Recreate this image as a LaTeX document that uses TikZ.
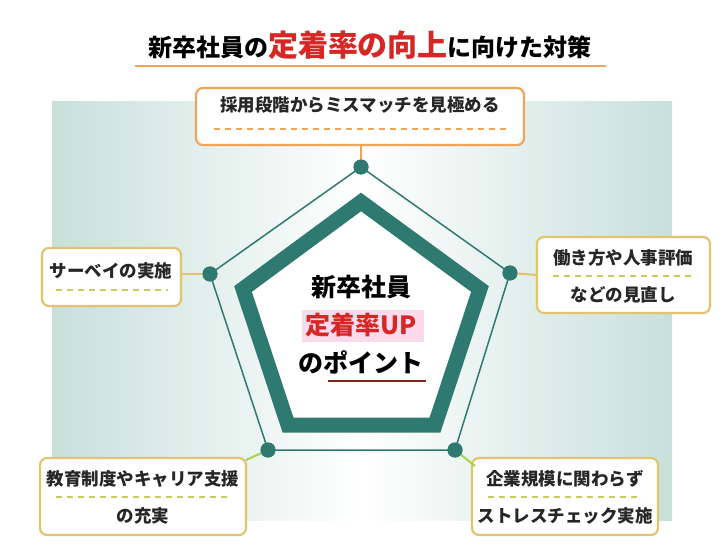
\documentclass[tikz,border=0pt]{standalone}
\usepackage{fontspec}
\setmainfont{Noto Sans CJK JP}
\usetikzlibrary{positioning,calc}
\definecolor{teal1}{RGB}{47,122,112}
\definecolor{bgteal}{RGB}{200,224,218}
\definecolor{orng}{RGB}{238,165,88}
\definecolor{gold}{RGB}{226,196,112}
\definecolor{dashy}{RGB}{205,200,95}
\definecolor{redt}{RGB}{214,38,38}
\definecolor{pinkb}{RGB}{250,218,235}
\tikzset{
   mybox/.style={draw=gold, line width=2.2pt, rounded corners=7pt, fill=white},
   mydot/.style={circle, fill=teal1, inner sep=0pt, minimum size=15pt},
   mytext/.style={font=\fontsize{17.5}{20}\selectfont\bfseries, text=black!85},
   mylink/.style={line width=2pt}
}
\begin{document}
\begin{tikzpicture}[x=1pt,y=-1pt]
  \useasboundingbox (0,0) rectangle (724,559);
  \fill[white] (0,0) rectangle (724,559);
  % background panel
  \shade[left color=bgteal, right color=bgteal, middle color=white] (52,102) rectangle (672,520);
  % title
  \node[font=\bfseries] (title) at (370,45) {\fontsize{24}{28}\selectfont 新卒社員の{\fontsize{30}{34}\selectfont\color{redt}定着率の向上}に向けた対策};
  \draw[orng, line width=1.2pt] (135,66) -- (606,66);
  % outer pentagon
  \node[mydot] (top) at (361,167) {};
  \node[mydot] (rgt) at (510,273) {};
  \node[mydot] (brt) at (455,450) {};
  \node[mydot] (blt) at (268,450) {};
  \node[mydot] (lft) at (210,274) {};
  \draw[teal1, line width=1.5pt] (top.center) -- (rgt.center) -- (brt.center) -- (blt.center) -- (lft.center) -- cycle;
  % thick pentagon
  \draw[teal1, line width=15pt, fill=white, line join=miter] (361,202) -- (480,289) -- (435,425) -- (288,425) -- (243,289) -- cycle;
  % center text
  \fill[pinkb] (302,310) rectangle (424,342);
  \node[font=\bfseries] (c1) at (361,287) {\fontsize{25}{28}\selectfont 新卒社員};
  \node[text=redt, font=\bfseries] (c2) at (361,325) {\fontsize{25}{28}\selectfont 定着率UP};
  \node[font=\bfseries] (c3) at (361,362) {\fontsize{25}{28}\selectfont のポイント};
  \draw[black!60!red!70!brown, line width=1.5pt] (328,381) -- (426,381);
  % boxes
  \draw[mybox, draw=orng] (196,88) rectangle (524,145);
  \node[mytext] (t1) at (360,105) {採用段階からミスマッチを見極める};
  \draw[orng, dashed, dash pattern=on 6pt off 5pt, line width=1.3pt] (214,129) -- (506,129);
  \draw[mybox] (42,248) rectangle (181,306);
  \node[mytext] (t2) at (111,271) {サーベイの実施};
  \draw[dashy, dash pattern=on 6pt off 5pt, line width=1.3pt] (56,290) -- (168,290);
  \draw[mybox] (537,237) rectangle (710,313);
  \node[mytext] (t3) at (623,258) {働き方や人事評価};
  \draw[dashy, dash pattern=on 6pt off 5pt, line width=1.3pt] (553,276) -- (694,276);
  \node[mytext] (t3b) at (623,295) {などの見直し};
  \draw[mybox] (40,458) rectangle (246,535);
  \node[mytext] (t4) at (143,479) {教育制度やキャリア支援};
  \draw[dashy, dash pattern=on 6pt off 5pt, line width=1.3pt] (56,497) -- (230,497);
  \node[mytext] (t4b) at (143,516) {の充実};
  \draw[mybox] (472,458) rectangle (658,535);
  \node[mytext] (t5) at (565,479) {企業規模に関わらず};
  \draw[dashy, dash pattern=on 6pt off 5pt, line width=1.3pt] (488,497) -- (642,497);
  \node[mytext] (t5b) at (565,516) {ストレスチェック実施};
  % links
  \coordinate (k1) at (361,146);
  \coordinate (k2) at (181,274);
  \coordinate (k3) at (537,275);
  \coordinate (k4) at (246,460);
  \coordinate (k5) at (475,466);
  \draw[mylink, orng] (k1) -- (top.center);
  \draw[mylink, gold] (k2) -- (lft.center);
  \draw[mylink, gold] (k3) -- (rgt.center);
  \draw[mylink, dashy!80!green] (k4) -- (blt.center);
  \draw[mylink, dashy!80!green] (k5) -- (brt.center);
  \node[mydot] at (top) {}; \node[mydot] at (lft) {}; \node[mydot] at (rgt) {};
  \node[mydot] at (blt) {}; \node[mydot] at (brt) {};
\end{tikzpicture}
\end{document}
